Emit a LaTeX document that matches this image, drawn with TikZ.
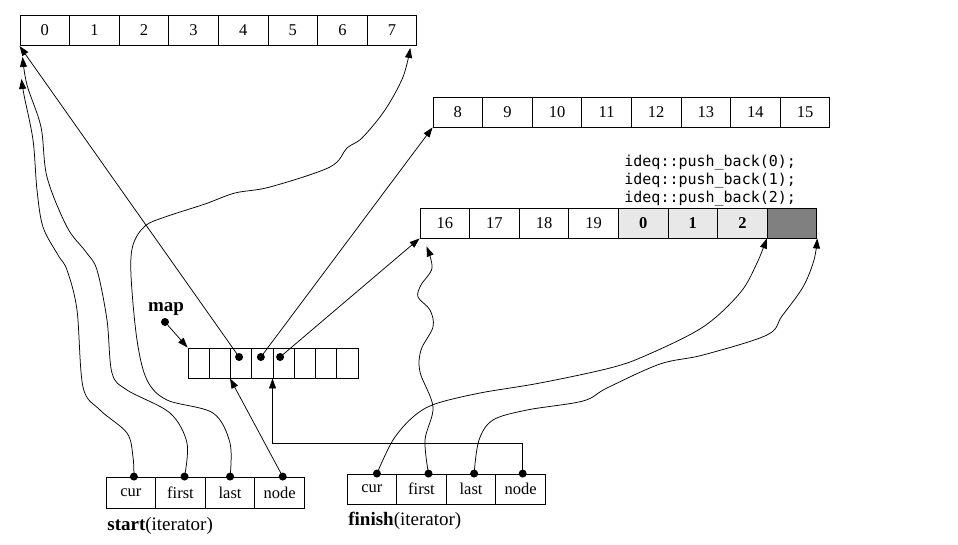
\documentclass[tikz,border=0pt]{standalone}
\usepackage{fontspec}
\setmainfont{Liberation Serif}
\newfontfamily\codefont{DejaVu Sans Mono}
\usetikzlibrary{arrows.meta,calc}

\begin{document}
\begin{tikzpicture}[x=1pt, y=-1pt, node distance = 49.6pt, line width=0.75pt,
    >={Triangle[length=10pt,width=7pt]}]
        \tikzstyle{cell}=[draw, line width=0.9pt, minimum width=49.6pt, minimum height=30pt,
            inner sep=0pt, font=\fontsize{16.5}{18}\selectfont]
        \tikzstyle{slot}=[cell, minimum width=21.25pt, node distance=21.25pt]
        \tikzstyle{dot}=[circle, fill, inner sep=0pt, minimum size=8pt]
        \tikzstyle{lbl}=[anchor=west, inner sep=0pt, font=\fontsize{19}{20}\selectfont]
        \tikzstyle{wave}=[->, smooth, tension=0.55]

        \useasboundingbox (0,0) rectangle (958,544);

        % buffers
        \node (a0) [cell] at (44.8,30.5) {0};
        \foreach \i [count=\j from 0] in {1,...,7}
            \node (a\i) [cell, right of = a\j] {\i};

        \node (b0) [cell] at (457.8,112) {8};
        \foreach \i/\t [count=\j from 0] in {1/9,2/10,3/11,4/12,5/13,6/14,7/15}
            \node (b\i) [cell, right of = b\j] {\t};

        \node (c0) [cell] at (444.8,223) {16};
        \node (c1) [cell, right of = c0] {17};
        \node (c2) [cell, right of = c1] {18};
        \node (c3) [cell, right of = c2] {19};
        \node (c4) [cell, right of = c3, fill=black!9] {\textbf{0}};
        \node (c5) [cell, right of = c4, fill=black!9] {\textbf{1}};
        \node (c6) [cell, right of = c5, fill=black!9] {\textbf{2}};
        \node (c7) [cell, right of = c6, fill=black!50] {};

        \node (code) [anchor=north west, align=left, inner sep=0pt,
            font=\codefont\fontsize{15}{18}\selectfont] at (624,155)
            {ideq::push\_back(0);\\ideq::push\_back(1);\\ideq::push\_back(2);};

        % map
        \node (m0) [slot] at (198.6,363) {};
        \foreach \i [count=\j from 0] in {1,...,7}
            \node (m\i) [slot, right of = m\j] {};
        \node (md2) [dot] at ($(m2)+(-2,-6)$) {};
        \node (md3) [dot] at ($(m3)+(-1.5,-6)$) {};
        \node (md4) [dot] at ($(m4)+(-3.5,-6)$) {};

        \node (map) [font=\fontsize{19}{20}\selectfont\bfseries, inner sep=0pt] at (166,309) {map};
        \node (mapdot) [dot] at (165,322) {};
        \draw[->] (mapdot) -- (m0.north west);

        % iterators
        \node (s0) [cell, minimum height=31pt] at (130.9,492.5) {cur};
        \node (s1) [cell, minimum height=31pt, right of = s0] {first};
        \node (s2) [cell, minimum height=31pt, right of = s1] {last};
        \node (s3) [cell, minimum height=31pt, right of = s2] {node};
        \node (start) [lbl] at (107,526) {\textbf{start}(iterator)};

        \node (f0) [cell] at (371.9,489) {cur};
        \node (f1) [cell, right of = f0] {first};
        \node (f2) [cell, right of = f1] {last};
        \node (f3) [cell, right of = f2] {node};
        \node (finish) [lbl] at (348,521) {\textbf{finish}(iterator)};

        \node (sd0) [dot] at ([xshift=3pt]s0.north) {};
        \node (sd1) [dot] at ([xshift=4pt]s1.north) {};
        \node (sd2) [dot] at (s2.north) {};
        \node (sd3) [dot] at ([xshift=3pt]s3.north) {};
        \node (fd0) [dot] at ([xshift=5pt]f0.north) {};
        \node (fd1) [dot] at ([xshift=7pt]f1.north) {};
        \node (fd2) [dot] at ([xshift=3pt]f2.north) {};
        \node (fd3) [dot] at ([xshift=2pt]f3.north) {};

        \coordinate (curtip) at ($(a0.south west)+(2,33)$);
        \coordinate (firsttip) at ($(a0.south west)+(3,11)$);
        \coordinate (lasttip) at ($(a7.south east)+(-7,2)$);
        \coordinate (ftip) at ($(c0.south west)+(7,8)$);

        % map -> buffers
        \draw[->] (md2.center) -- (a0.south west);
        \draw[->] (md3.center) -- (b0.south west);
        \draw[->] (md4.center) -- (c0.south west);

        % node pointers
        \draw[->] (sd3.center) -- (m2.south west);
        \draw[->] (fd3.center) -- ++(0,-30) -| (m4.south west);

        % start
        \draw[wave] plot coordinates {(sd0.center) (133,457) (127,433) (100,410) (83,387)
            (77,310) (67,270) (58,255) (43,227) (37,190) (33,140) (24,95) (curtip)};
        \draw[wave] plot coordinates {(sd1.center) (187,443) (170,413) (127,390) (112,373)
            (107,320) (97,270) (86,252) (67,227) (47,177) (41,127) (27,85) (firsttip)};
        \draw[wave] plot coordinates {(sd2.center) (230,443) (213,413) (167,400) (147,380)
            (137,340) (131,275) (133,245) (145,226) (165,217) (205,204) (235,193)
            (270,187) (330,167) (347,148) (362,138) (385,110) (403,77) (lasttip)};

        % finish
        \draw[wave] plot coordinates {(fd0.center) (393,440) (413,417) (435,404) (480,393)
            (540,383) (610,368) (647,355) (703,327) (740,293) (757,263) (c7.south west)};
        \draw[wave] plot coordinates {(fd1.center) (425,440) (433,407) (420,372) (421,350)
            (433,327) (430,310) (418,297) (421,285) (432,268) (ftip)};
        \draw[wave] plot coordinates {(fd2.center) (479,440) (493,420) (527,410) (583,401)
            (607,388) (660,364) (703,355) (767,335) (782,316) (803,287) (814,260) (c7.south east)};
    \end{tikzpicture}
\end{document}
